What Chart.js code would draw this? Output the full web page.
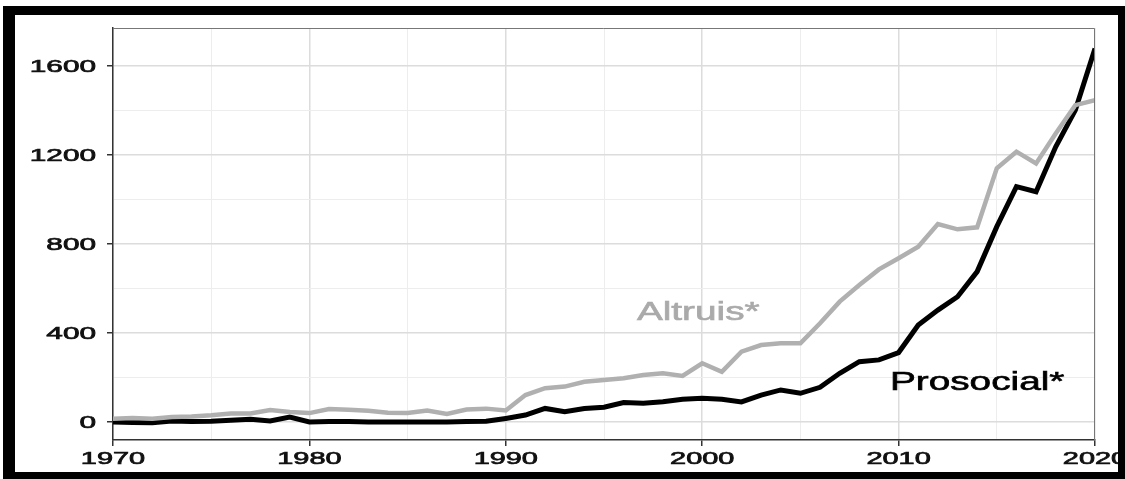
<!DOCTYPE html>
<html>
<head>
<meta charset="utf-8">
<script src="https://cdn.jsdelivr.net/npm/chart.js@4.4.1/dist/chart.umd.min.js"></script>
<style>
  html, body { margin: 0; padding: 0; background: #fff; }
  canvas { display: block; }
</style>
</head>
<body>
<canvas id="chart" width="1125" height="479"></canvas>
<script>
// Years on the x axis
var years = [1970, 1971, 1972, 1973, 1974, 1975, 1976, 1977, 1978, 1979,
             1980, 1981, 1982, 1983, 1984, 1985, 1986, 1987, 1988, 1989,
             1990, 1991, 1992, 1993, 1994, 1995, 1996, 1997, 1998, 1999,
             2000, 2001, 2002, 2003, 2004, 2005, 2006, 2007, 2008, 2009,
             2010, 2011, 2012, 2013, 2014, 2015, 2016, 2017, 2018, 2019, 2020];

// Counts
var altruis = [15, 18, 15, 22, 25, 30, 38, 38, 54, 45,
               40, 58, 55, 50, 42, 40, 52, 36, 56, 60,
               52, 121, 152, 159, 181, 189, 197, 211, 219, 207,
               264, 226, 316, 346, 354, 354, 444, 541, 616, 686,
               736, 788, 890, 866, 875, 1140, 1215, 1162, 1297, 1424, 1447];

var prosocial = [0, -2, -3, 4, 2, 3, 8, 12, 5, 22,
                 0, 2, 2, 0, 0, 0, 0, 0, 2, 3,
                 16, 31, 61, 46, 61, 66, 87, 84, 91, 102,
                 107, 102, 90, 121, 144, 129, 156, 219, 271, 279,
                 312, 436, 503, 563, 676, 878, 1058, 1035, 1237, 1402, 1679];

// Axis ticks (minor grid every 5 years / 200, labels on majors)
var xTicks = [1970, 1975, 1980, 1985, 1990, 1995, 2000, 2005, 2010, 2015, 2020];
var xLabels = [1970, 1980, 1990, 2000, 2010, 2020];
var yTicks = [0, 200, 400, 600, 800, 1000, 1200, 1400, 1600];
var yLabels = [0, 400, 800, 1200, 1600];

// In-plot series names, placed in data space
var seriesNames = ['Altruis*', 'Prosocial*'];
var nameYears = [1999.8, 2014.0];
var nameValues = [498, 182];

function toPoints(vals) {
    return years.map(function (yr, i) { return { x: yr, y: vals[i] }; });
}

// text squeezed wider like the source picture, with a thin stroke to thicken it
function stretchedText(ctx, txt, x, y, sx, align, stroke) {
    ctx.save();
    ctx.translate(x, y);
    ctx.scale(sx, 1);
    ctx.textAlign = align;
    ctx.fillText(txt, 0, 0);
    ctx.strokeStyle = ctx.fillStyle;
    ctx.lineWidth = stroke;
    ctx.strokeText(txt, 0, 0);
    ctx.restore();
}

var framePlugin = {
    id: 'frame',
    beforeDraw: function (chart) {
        var ctx = chart.ctx;
        ctx.save();
        ctx.fillStyle = '#fff';
        ctx.fillRect(0, 0, chart.width, chart.height);
        ctx.restore();
    },
    afterDraw: function (chart) {
        var ctx = chart.ctx;
        var a = chart.chartArea;
        var xs = chart.scales.x, ys = chart.scales.y;
        ctx.save();

        // top / right panel border
        ctx.strokeStyle = '#777';
        ctx.lineWidth = 1;
        ctx.beginPath();
        ctx.moveTo(a.left, a.top + 0.5);
        ctx.lineTo(a.right - 0.5, a.top + 0.5);
        ctx.lineTo(a.right - 0.5, a.bottom);
        ctx.stroke();

        // tick labels
        ctx.fillStyle = '#111';
        ctx.font = '17px "Liberation Sans", Arial, sans-serif';
        xLabels.forEach(function (v) {
            stretchedText(ctx, String(v), xs.getPixelForValue(v), a.bottom + 24, 1.7, 'center', 0.7);
        });
        yLabels.forEach(function (v) {
            stretchedText(ctx, String(v), a.left - 17, ys.getPixelForValue(v) + 6, 1.75, 'right', 0.7);
        });

        // series names
        ctx.font = '25px "Liberation Sans", Arial, sans-serif';
        var colors = ['#aaaaaa', '#000000'];
        seriesNames.forEach(function (s, i) {
            ctx.fillStyle = colors[i];
            stretchedText(ctx, s, xs.getPixelForValue(nameYears[i]), ys.getPixelForValue(nameValues[i]) + 9, 1.55, 'center', 0.6);
        });

        // outer black frame
        ctx.fillStyle = '#000';
        ctx.fillRect(3, 6, 1122, 9);
        ctx.fillRect(3, 6, 12, 473);
        ctx.fillRect(3, 472, 1122, 7);
        ctx.fillRect(1118, 6, 7, 473);
        ctx.restore();
    }
};

var ctx = document.getElementById('chart').getContext('2d');

new Chart(ctx, {
    type: 'line',
    data: {
        datasets: [{
            label: 'Altruis*',
            data: toPoints(altruis),
            borderColor: '#b0b0b0',
            borderWidth: 4.5,
            pointRadius: 0,
            tension: 0,
            fill: false
        }, {
            label: 'Prosocial*',
            data: toPoints(prosocial),
            borderColor: '#000000',
            borderWidth: 5,
            pointRadius: 0,
            tension: 0,
            fill: false
        }]
    },
    options: {
        responsive: false,
        animation: false,
        layout: { padding: { left: 0, top: 28, right: 30, bottom: 0 } },
        plugins: {
            legend: { display: false },
            tooltip: { enabled: false }
        },
        scales: {
            x: {
                type: 'linear',
                min: 1970,
                max: 2020,
                afterBuildTicks: function (s) { s.ticks = xTicks.map(function (v) { return { value: v }; }); },
                afterFit: function (s) { s.height = 39; },
                ticks: { display: false },
                border: { color: '#333', width: 1.5 },
                grid: {
                    color: function (c) { return c.tick && c.tick.value % 10 === 0 ? '#dcdcdc' : '#ededed'; },
                    lineWidth: function (c) { return c.tick && c.tick.value % 10 === 0 ? 1.5 : 1; },
                    tickColor: function (c) { return c.tick && c.tick.value % 10 === 0 ? '#333' : 'rgba(0,0,0,0)'; },
                    tickLength: 6,
                    tickWidth: 1.5
                }
            },
            y: {
                min: -81,
                max: 1771,
                afterBuildTicks: function (s) { s.ticks = yTicks.map(function (v) { return { value: v }; }); },
                afterFit: function (s) { s.width = 113; },
                ticks: { display: false },
                border: { color: '#333', width: 1.5 },
                grid: {
                    color: function (c) { return c.tick && c.tick.value % 400 === 0 ? '#dcdcdc' : '#ededed'; },
                    lineWidth: function (c) { return c.tick && c.tick.value % 400 === 0 ? 1.5 : 1; },
                    tickColor: function (c) { return c.tick && c.tick.value % 400 === 0 ? '#333' : 'rgba(0,0,0,0)'; },
                    tickLength: 6,
                    tickWidth: 1.5
                }
            }
        }
    },
    plugins: [framePlugin]
});
</script>
</body>
</html>
